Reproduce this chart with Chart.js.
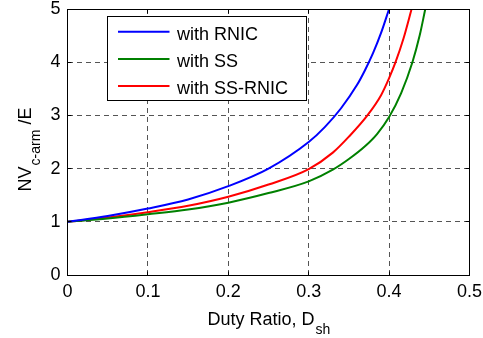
<!DOCTYPE html>
<html>
<head>
<meta charset="utf-8">
<script src="https://cdn.jsdelivr.net/npm/chart.js@4.4.1/dist/chart.umd.min.js"></script>
<style>
  body { margin: 0; background: #fff; }
  canvas { display: block; }
</style>
</head>
<body>
<canvas id="chart" width="483" height="338"></canvas>
<script>
// axis ticks
const xTicks = [0, 0.1, 0.2, 0.3, 0.4, 0.5];
const yTicks = [0, 1, 2, 3, 4, 5];

const seriesLabels = ["with RNIC", "with SS", "with SS-RNIC"];
const seriesColors = ["#0000ff", "#008000", "#ff0000"];

// values
const rnicDuty = [0, 0.05, 0.1, 0.15, 0.2, 0.25, 0.3, 0.32, 0.34, 0.36, 0.37, 0.38, 0.39, 0.4];
const rnicValue = [1, 1.11, 1.25, 1.42, 1.67, 2.0, 2.5, 2.78, 3.13, 3.57, 3.85, 4.17, 4.55, 5.0];

const ssDuty = [0, 0.05, 0.1, 0.15, 0.2, 0.25, 0.3, 0.33, 0.35, 0.37, 0.385, 0.4, 0.415, 0.429, 0.438, 0.445];
const ssValue = [1, 1.06, 1.14, 1.23, 1.36, 1.54, 1.76, 1.98, 2.18, 2.42, 2.65, 2.97, 3.42, 4.0, 4.5, 5.0];

const ssRnicDuty = [0, 0.05, 0.1, 0.15, 0.2, 0.25, 0.3, 0.33, 0.35, 0.373, 0.39, 0.4, 0.408, 0.418, 0.428];
const ssRnicValue = [1, 1.08, 1.18, 1.3, 1.47, 1.7, 1.99, 2.3, 2.6, 3.0, 3.38, 3.7, 4.0, 4.45, 5.0];

const FONT = "'Liberation Sans', Arial, sans-serif";
Chart.defaults.font.family = FONT;
Chart.defaults.color = "#000";

function toPoints(xs, ys) {
  return xs.map((x, i) => ({ x: x, y: ys[i] }));
}

const seriesData = [
  toPoints(rnicDuty, rnicValue),
  toPoints(ssDuty, ssValue),
  toPoints(ssRnicDuty, ssRnicValue),
];

const datasets = seriesData.map((pts, i) => ({
  label: seriesLabels[i],
  data: pts,
  borderColor: seriesColors[i],
  backgroundColor: seriesColors[i],
  borderWidth: 2,
  pointRadius: 0,
  cubicInterpolationMode: "monotone",
  fill: false,
}));

function align(v) {
  return Math.round(v - 0.5) + 0.5;
}

// box, inner ticks, axis titles and legend drawn like matlab does
const matlabLook = {
  id: "matlabLook",
  afterDraw(chart) {
    const ctx = chart.ctx;
    const x = chart.scales.x;
    const y = chart.scales.y;
    const l = align(x.getPixelForValue(xTicks[0]));
    const r = align(x.getPixelForValue(xTicks[xTicks.length - 1]));
    const b = align(y.getPixelForValue(yTicks[0]));
    const t = align(y.getPixelForValue(yTicks[yTicks.length - 1]));

    ctx.save();
    ctx.strokeStyle = "#000";
    ctx.lineWidth = 1;
    ctx.setLineDash([]);
    ctx.strokeRect(l, t, r - l, b - t);

    ctx.beginPath();
    xTicks.forEach((v) => {
      const px = align(x.getPixelForValue(v));
      ctx.moveTo(px, b); ctx.lineTo(px, b - 4);
      ctx.moveTo(px, t); ctx.lineTo(px, t + 4);
    });
    yTicks.forEach((v) => {
      const py = align(y.getPixelForValue(v));
      ctx.moveTo(l, py); ctx.lineTo(l + 4, py);
      ctx.moveTo(r, py); ctx.lineTo(r - 4, py);
    });
    ctx.stroke();

    // legend
    const lx = 107.5, ly = 16.5, lw = 199, lh = 84;
    ctx.fillStyle = "#fff";
    ctx.fillRect(lx, ly, lw, lh);
    ctx.strokeRect(lx, ly, lw, lh);
    ctx.font = "18px " + FONT;
    ctx.textBaseline = "alphabetic";
    ctx.textAlign = "left";
    chart.data.datasets.forEach((ds, i) => {
      const base = 40 + i * 27.2;
      ctx.strokeStyle = ds.borderColor;
      ctx.lineWidth = 2;
      ctx.beginPath();
      ctx.moveTo(118, base - 8.3);
      ctx.lineTo(169.5, base - 8.3);
      ctx.stroke();
      ctx.fillStyle = "#000";
      ctx.fillText(ds.label, 177, base);
    });

    // x title with subscript
    const main = "18px " + FONT;
    const sub = "14px " + FONT;
    ctx.fillStyle = "#000";
    ctx.font = main;
    const xt = "Duty Ratio, D";
    const xw = ctx.measureText(xt).width;
    ctx.font = sub;
    const xs = "sh";
    const xsw = ctx.measureText(xs).width;
    const cx = (l + r) / 2;
    let sx = cx - (xw + xsw) / 2;
    ctx.font = main;
    ctx.fillText(xt, sx, 325);
    ctx.font = sub;
    ctx.fillText(xs, sx + xw + 1, 333.5);

    // y title with subscript, rotated
    ctx.save();
    ctx.translate(30.5, 150);
    ctx.rotate(-Math.PI / 2);
    ctx.font = main;
    const y1 = "NV";
    const y1w = ctx.measureText(y1).width;
    const y3 = " /E";
    const y3w = ctx.measureText(y3).width;
    ctx.font = sub;
    const y2 = "c-arm";
    const y2w = ctx.measureText(y2).width;
    let p = -(y1w + y2w + y3w) / 2;
    ctx.font = main;
    ctx.fillText(y1, p, 0);
    ctx.font = sub;
    ctx.fillText(y2, p + y1w + 1, 9);
    ctx.font = main;
    ctx.fillText(y3, p + y1w + y2w + 1, 0);
    ctx.restore();

    ctx.restore();
  },
};

new Chart(document.getElementById("chart"), {
  type: "line",
  data: { datasets: datasets },
  options: {
    responsive: false,
    animation: false,
    devicePixelRatio: 1,
    layout: { padding: { left: 7.5, right: 13.5, top: 9, bottom: 0 } },
    plugins: {
      legend: { display: false },
      tooltip: { enabled: false },
    },
    scales: {
      x: {
        type: "linear",
        min: 0,
        max: 0.5,
        afterBuildTicks: (s) => { s.ticks = xTicks.map((v) => ({ value: v })); },
        afterFit: (s) => { s.height = 63; },
        ticks: {
          font: { size: 18, lineHeight: 1 },
          padding: 0,
          maxRotation: 0,
          callback: (v) => String(v),
        },
        grid: { color: "#555", lineWidth: 1, drawTicks: true, tickLength: 8, tickColor: "rgba(0,0,0,0)" },
        border: { display: true, color: "#000", dash: [5, 4] },
      },
      y: {
        type: "linear",
        min: 0,
        max: 5,
        afterBuildTicks: (s) => { s.ticks = yTicks.map((v) => ({ value: v })); },
        afterFit: (s) => { s.width = 60; },
        ticks: {
          font: { size: 18, lineHeight: 1 },
          padding: 0,
          callback: (v) => String(v),
        },
        grid: { color: "#555", lineWidth: 1, drawTicks: true, tickLength: 7, tickColor: "rgba(0,0,0,0)" },
        border: { display: true, color: "#000", dash: [5, 4] },
      },
    },
  },
  plugins: [matlabLook],
});
</script>
</body>
</html>
